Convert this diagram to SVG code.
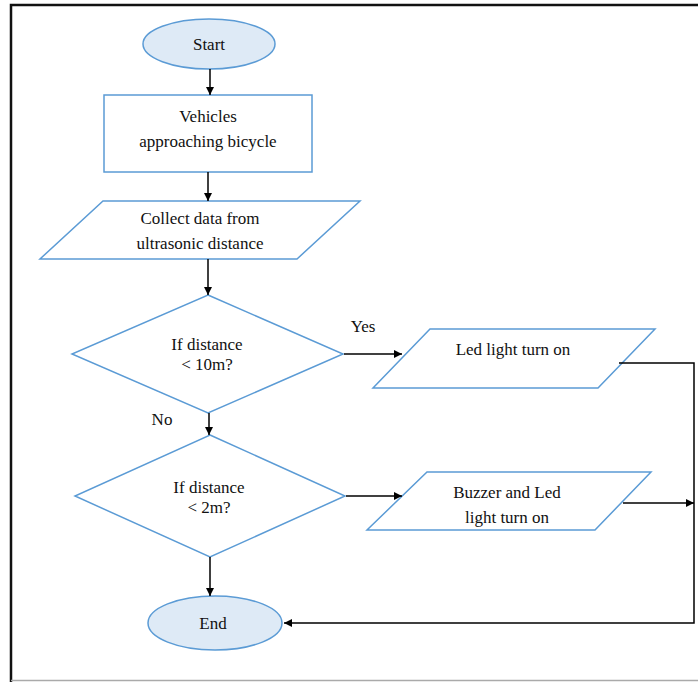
<svg xmlns="http://www.w3.org/2000/svg" width="698" height="682" viewBox="0 0 698 682">
<defs>
<style>
.n{fill:#fff;stroke:#5B9BD5;stroke-width:1.5}
.t{fill:#DEEAF6;stroke:#5B9BD5;stroke-width:1.5}
.x{font-size:17px;fill:#111;text-anchor:middle}
.c{fill:none;stroke:#000;stroke-width:1.5}
</style>
<marker id="a" viewBox="0 0 10 10" refX="10" refY="5" markerWidth="8" markerHeight="8" markerUnits="userSpaceOnUse" orient="auto">
<path d="M0,0 L10,5 L0,10 z" fill="#000"/>
</marker>
</defs>
<rect width="698" height="682" fill="#fff"/>
<path d="M11,682 V5 H698" fill="none" stroke="#111" stroke-width="2.5"/>
<line x1="11" y1="680.5" x2="698" y2="680.5" stroke="#aaa" stroke-width="1.5"/>
<g font-family="Liberation Serif, serif">
<g id="start"><ellipse class="t" cx="209" cy="44" rx="66" ry="25"/><text class="x" x="209" y="50">Start</text></g>
<g id="vehicles"><rect class="n" x="104" y="95" width="208" height="77"/><text class="x" x="208" y="122">Vehicles</text><text class="x" x="208" y="147">approaching bicycle</text></g>
<g id="collect"><polygon class="n" points="103,201 360,201 297,259 40,259"/><text class="x" x="200" y="224">Collect data from</text><text class="x" x="200" y="249">ultrasonic distance</text></g>
<g id="d1"><polygon class="n" points="208,295 343,354 208,413 72,354"/><text class="x" x="207" y="350">If distance</text><text class="x" x="207" y="370">&lt;  10m?</text></g>
<g id="led"><polygon class="n" points="430,329 655,329 598,388 373,388"/><text class="x" x="513" y="355">Led light turn on</text></g>
<g id="d2"><polygon class="n" points="210,435 345,496 210,557 75,496"/><text class="x" x="209" y="493">If distance</text><text class="x" x="209" y="513">&lt;  2m?</text></g>
<g id="buzzer"><polygon class="n" points="427,472 651,472 595,530 367,530"/><text class="x" x="507" y="498">Buzzer and Led</text><text class="x" x="507" y="523">light turn on</text></g>
<g id="end"><ellipse class="t" cx="215" cy="623" rx="67" ry="27"/><text class="x" x="213" y="629">End</text></g>
<g id="connectors">
<line class="c" x1="210" y1="69" x2="210" y2="95" marker-end="url(#a)"/>
<line class="c" x1="208" y1="172" x2="208" y2="201" marker-end="url(#a)"/>
<line class="c" x1="208" y1="259" x2="208" y2="295" marker-end="url(#a)"/>
<line class="c" x1="344" y1="354" x2="402" y2="354" marker-end="url(#a)"/>
<line class="c" x1="209" y1="413" x2="209" y2="435" marker-end="url(#a)"/>
<line class="c" x1="346" y1="496" x2="402" y2="496" marker-end="url(#a)"/>
<line class="c" x1="210" y1="557" x2="210" y2="596" marker-end="url(#a)"/>
<polyline class="c" points="619,363 694,363 694,623 284,623" marker-end="url(#a)"/>
<line class="c" x1="623" y1="503" x2="694" y2="503" marker-end="url(#a)"/>
<text class="x" x="363" y="332">Yes</text>
<text class="x" x="162" y="425">No</text>
</g>
</g>
</svg>
